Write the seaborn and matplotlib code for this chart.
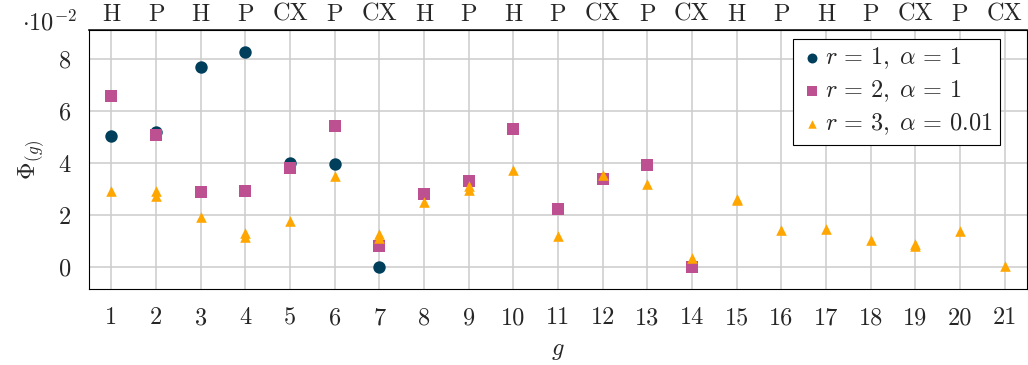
import matplotlib
matplotlib.use("Agg")
import matplotlib.pyplot as plt
import seaborn as sns
import pandas as pd

# ---- data (values in units of 1e-2) ----
g_r1 = [1, 2, 3, 4, 5, 6, 7]
phi_r1 = [5.05, 5.2, 7.72, 8.27, 4.02, 3.96, 0.0]

g_r2 = [1, 2, 3, 4, 5, 6, 7, 8, 9, 10, 11, 12, 13, 14]
phi_r2 = [6.58, 5.08, 2.90, 2.94, 3.81, 5.45, 0.82, 2.80, 3.30, 5.32, 2.25, 3.39, 3.92, 0.0]

g_r3 = [1, 2, 2, 3, 4, 4, 5, 6, 7, 7, 8, 9, 9, 10, 11, 12, 13, 14, 15, 15, 16, 17, 18, 19, 19, 20, 21]
phi_r3 = [2.93, 2.92, 2.72, 1.91, 1.30, 1.17, 1.78, 3.50, 1.28, 1.12, 2.52, 3.10, 2.98, 3.72,
          1.18, 3.55, 3.18, 0.36, 2.62, 2.57, 1.42, 1.45, 1.05, 0.90, 0.82, 1.40, 0.02]

top_labels = ["H", "P", "H", "P", "CX", "P", "CX", "H", "P", "H", "P", "CX", "P", "CX",
              "H", "P", "H", "P", "CX", "P", "CX"]
x_ticks = list(range(1, 22))
y_ticks = [0, 2, 4, 6, 8]

labels = [r"$r\,=\,1,\;\alpha\,=\,1$", r"$r\,=\,2,\;\alpha\,=\,1$", r"$r\,=\,3,\;\alpha\,=\,0.01$"]
colors = ["#003f5c", "#bc5090", "#ffa600"]
markers = ["o", "s", "^"]
sizes = [80, 70, 58]

FS = 17.5

sns.set_theme(style="white")
plt.rcParams["font.family"] = ["serif"]
plt.rcParams["font.serif"] = ["cmr10", "DejaVu Serif"]
plt.rcParams["mathtext.fontset"] = "cm"
plt.rcParams["axes.formatter.use_mathtext"] = True

fig = plt.figure(figsize=(10.28, 3.65), dpi=100)
ax = fig.add_axes([0.0866, 0.2082, 0.9124, 0.7096])

frames = [
    pd.DataFrame({"g": g_r1, "phi": phi_r1}),
    pd.DataFrame({"g": g_r2, "phi": phi_r2}),
    pd.DataFrame({"g": g_r3, "phi": phi_r3}),
]
for df, lab, c, m, s in zip(frames, labels, colors, markers, sizes):
    sns.scatterplot(data=df, x="g", y="phi", ax=ax, color=c, marker=m, s=s,
                    linewidth=0, label=lab, zorder=3)

ax.set_xlim(0.5, 21.5)
ax.set_ylim(-0.85, 9.13)
ax.set_xticks(x_ticks)
ax.set_xticklabels([str(v) for v in x_ticks])
ax.set_yticks(y_ticks)
ax.set_yticklabels([str(v) for v in y_ticks])
ax.grid(True, color="#cccccc", linewidth=1.1, zorder=0)
ax.set_axisbelow(True)
ax.tick_params(axis="both", direction="out", length=8, width=0.8, color="black",
               labelsize=FS, pad=5)
for sp in ax.spines.values():
    sp.set_color("black")
    sp.set_linewidth(0.8)

ax.set_xlabel(r"$g$", fontsize=FS, labelpad=8)
ax.set_ylabel(r"$\Phi_{(g)}$", fontsize=FS, labelpad=9)

ax2 = ax.secondary_xaxis("top")
ax2.set_xticks(x_ticks)
ax2.set_xticklabels(top_labels)
ax2.tick_params(axis="x", length=0, labelsize=FS, pad=3)

fig.text(0.021, 0.918, r"$\cdot 10^{-2}$", fontsize=FS, ha="left", va="baseline")

leg = ax.legend(loc="upper right", bbox_to_anchor=(0.971, 0.967), borderaxespad=0,
                fontsize=FS, frameon=True, fancybox=False, framealpha=1,
                edgecolor="black", handletextpad=0.0, handlelength=1.0,
                borderpad=0.3, labelspacing=0.3, markerscale=0.8)
leg.get_frame().set_linewidth(0.8)

fig.savefig("out.png", dpi=100)
